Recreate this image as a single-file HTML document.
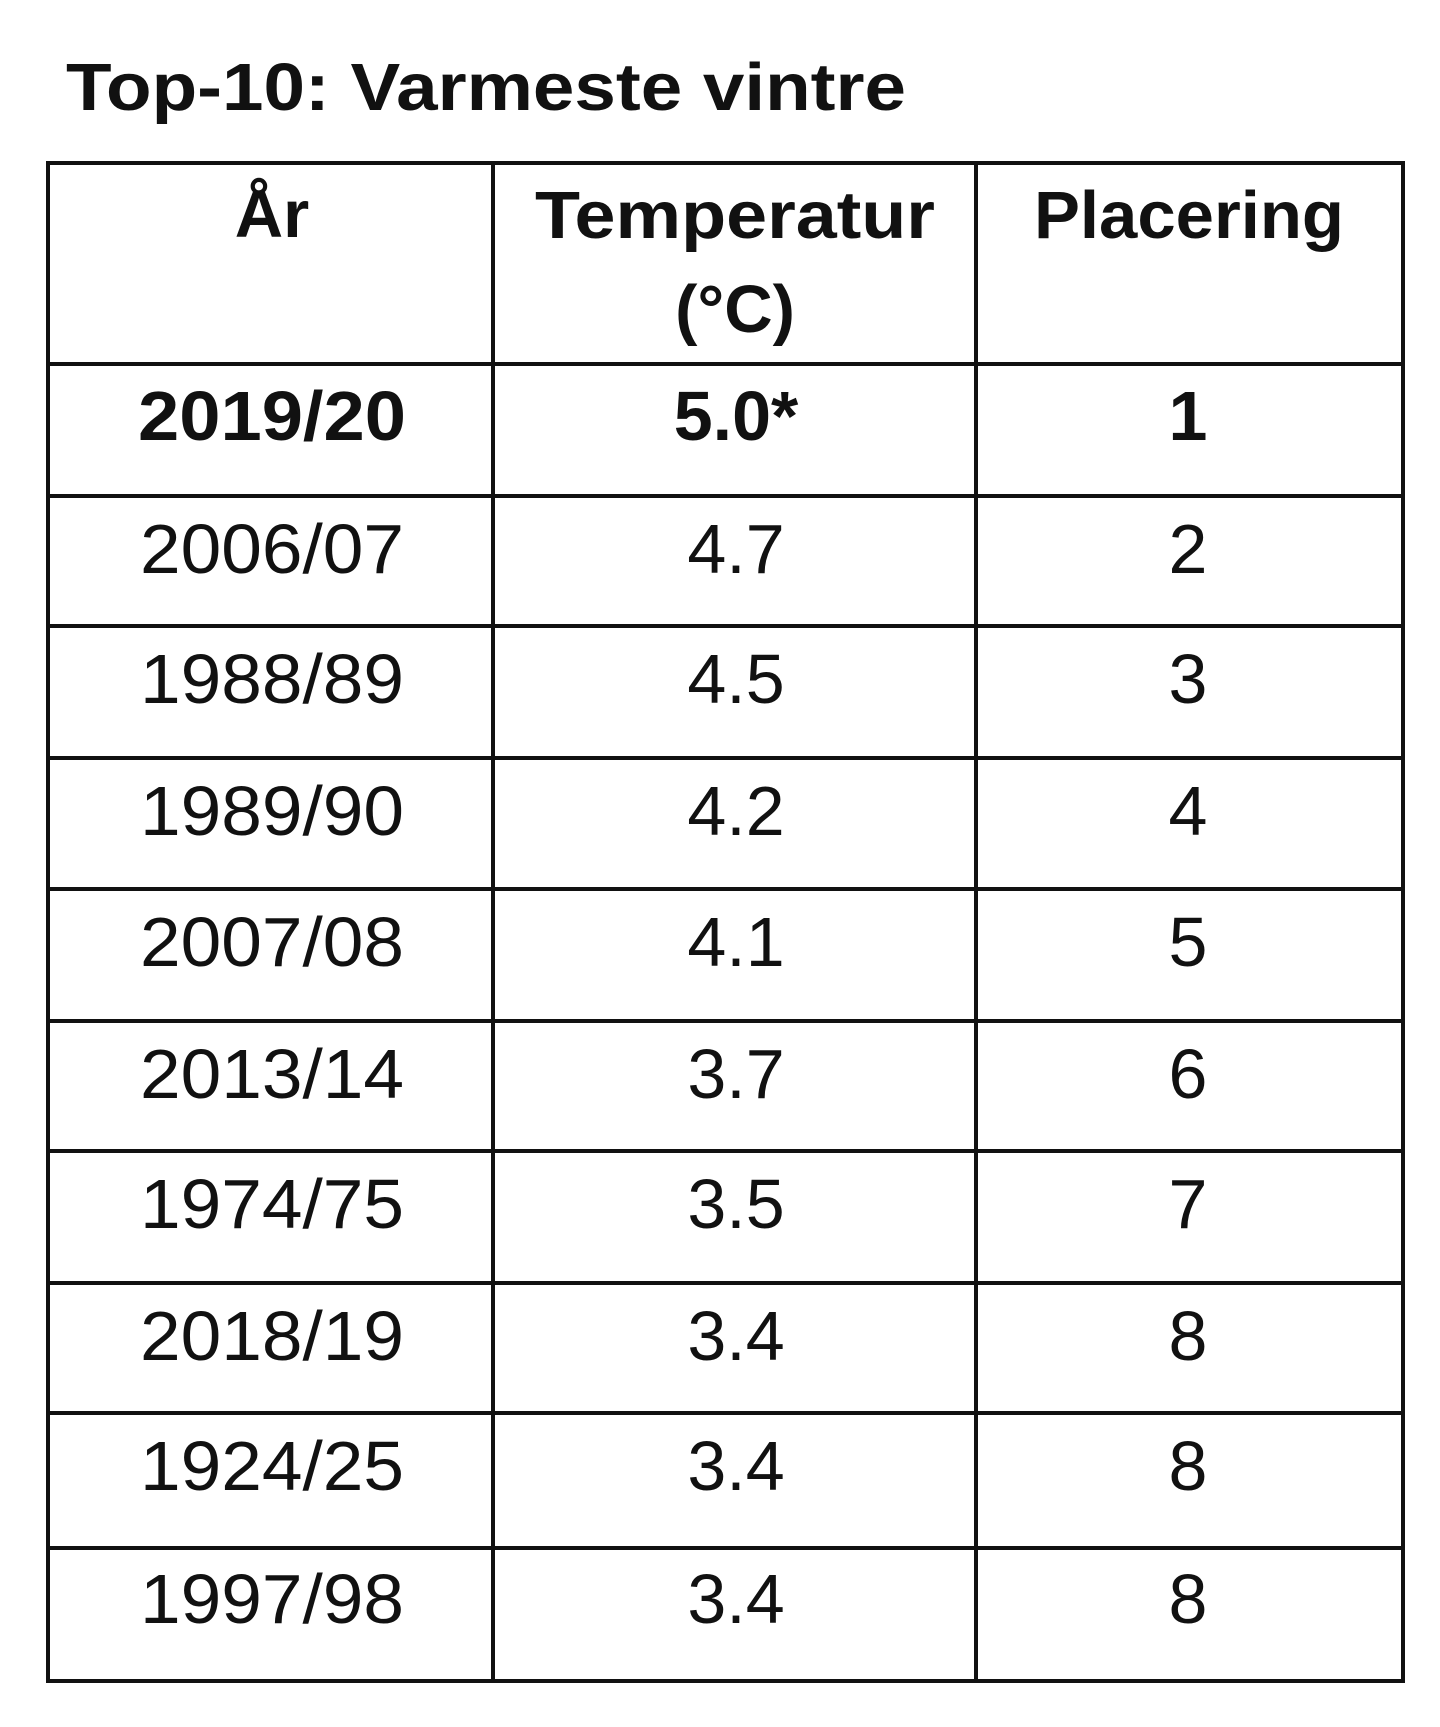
<!DOCTYPE html>
<html><head><meta charset="utf-8"><style>
html,body{margin:0;padding:0;background:#fff;}
svg{display:block;}
text{font-family:"Liberation Sans",sans-serif;fill:#111;}
</style></head><body>
<svg width="1440" height="1727" viewBox="0 0 1440 1727" xmlns="http://www.w3.org/2000/svg">
<text x="66" y="110" font-size="67" font-weight="bold" textLength="840" lengthAdjust="spacingAndGlyphs">Top-10: Varmeste vintre</text>
<g stroke="#111" stroke-width="4" fill="none">
<rect x="48" y="163" width="1355" height="1518"/>
<line x1="493" y1="163" x2="493" y2="1681"/>
<line x1="976" y1="163" x2="976" y2="1681"/>
<line x1="48" y1="364" x2="1403" y2="364"/>
<line x1="48" y1="496" x2="1403" y2="496"/>
<line x1="48" y1="626" x2="1403" y2="626"/>
<line x1="48" y1="758" x2="1403" y2="758"/>
<line x1="48" y1="889" x2="1403" y2="889"/>
<line x1="48" y1="1021" x2="1403" y2="1021"/>
<line x1="48" y1="1151" x2="1403" y2="1151"/>
<line x1="48" y1="1283" x2="1403" y2="1283"/>
<line x1="48" y1="1413" x2="1403" y2="1413"/>
<line x1="48" y1="1548" x2="1403" y2="1548"/>
</g>
<g font-size="67" font-weight="bold" text-anchor="middle">
<text x="272" y="237">År</text>
<text x="735" y="238" textLength="400" lengthAdjust="spacingAndGlyphs">Temperatur</text>
<text x="735" y="332">(°C)</text>
<text x="1189" y="238" textLength="310" lengthAdjust="spacingAndGlyphs">Placering</text>
</g>
<g font-size="70" text-anchor="middle">
<text x="272" y="440" font-weight="bold" textLength="268" lengthAdjust="spacingAndGlyphs">2019/20</text>
<text x="736" y="440" font-weight="bold">5.0*</text>
<text x="1188" y="440" font-weight="bold">1</text>
<g id="r">
<text x="272" y="573" textLength="264" lengthAdjust="spacingAndGlyphs">2006/07</text><text x="736" y="573">4.7</text><text x="1188" y="573">2</text>
<text x="272" y="703" textLength="264" lengthAdjust="spacingAndGlyphs">1988/89</text><text x="736" y="703">4.5</text><text x="1188" y="703">3</text>
<text x="272" y="835" textLength="264" lengthAdjust="spacingAndGlyphs">1989/90</text><text x="736" y="835">4.2</text><text x="1188" y="835">4</text>
<text x="272" y="966" textLength="264" lengthAdjust="spacingAndGlyphs">2007/08</text><text x="736" y="966">4.1</text><text x="1188" y="966">5</text>
<text x="272" y="1098" textLength="264" lengthAdjust="spacingAndGlyphs">2013/14</text><text x="736" y="1098">3.7</text><text x="1188" y="1098">6</text>
<text x="272" y="1228" textLength="264" lengthAdjust="spacingAndGlyphs">1974/75</text><text x="736" y="1228">3.5</text><text x="1188" y="1228">7</text>
<text x="272" y="1360" textLength="264" lengthAdjust="spacingAndGlyphs">2018/19</text><text x="736" y="1360">3.4</text><text x="1188" y="1360">8</text>
<text x="272" y="1490" textLength="264" lengthAdjust="spacingAndGlyphs">1924/25</text><text x="736" y="1490">3.4</text><text x="1188" y="1490">8</text>
<text x="272" y="1623" textLength="264" lengthAdjust="spacingAndGlyphs">1997/98</text><text x="736" y="1623">3.4</text><text x="1188" y="1623">8</text>
</g>
</g>
</svg>
</body></html>
